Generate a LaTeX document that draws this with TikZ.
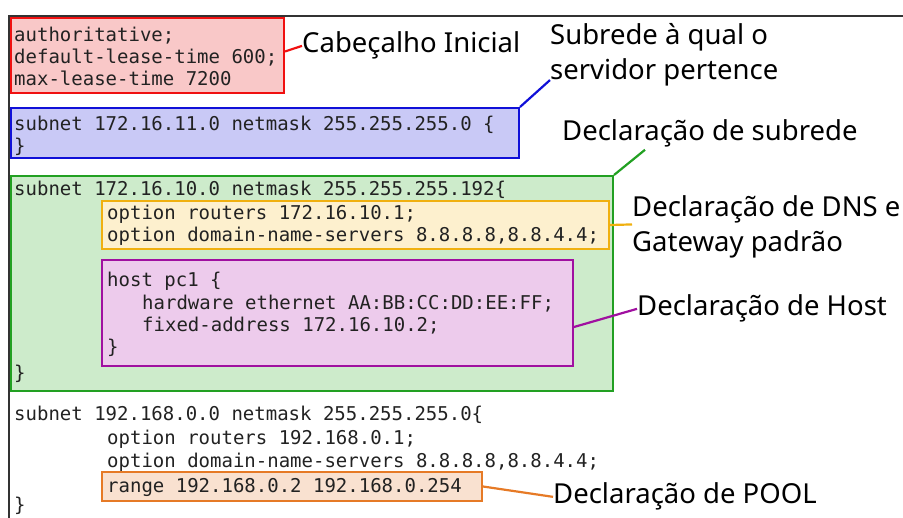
\documentclass[tikz,border=0pt]{standalone}
\usepackage{fontspec}
\setmainfont{Noto Sans}
\newfontfamily\codefont{DejaVu Sans Mono}
\definecolor{redfill}{HTML}{F9C8C8}
\definecolor{redline}{HTML}{F01010}
\definecolor{bluefill}{HTML}{C9C9F6}
\definecolor{blueline}{HTML}{1010D8}
\definecolor{greenfill}{HTML}{CDEBCB}
\definecolor{greenline}{HTML}{22A022}
\definecolor{yelfill}{HTML}{FDF0CE}
\definecolor{yelline}{HTML}{F0B010}
\definecolor{purfill}{HTML}{EDCBEC}
\definecolor{purline}{HTML}{A010A0}
\definecolor{orafill}{HTML}{F9E1D0}
\definecolor{oraline}{HTML}{E67A26}
\definecolor{codegray}{HTML}{222222}
\definecolor{framegray}{HTML}{333333}
\begin{document}
\begin{tikzpicture}[x=1pt,y=-1pt,
  box/.style={draw, line width=2pt, inner sep=0pt, anchor=north west},
  code/.style={anchor=base west, inner sep=0pt, text=codegray,
    font=\codefont\fontsize{19}{22}\selectfont},
  lbl/.style={anchor=base west, inner sep=0pt, text=black,
    font=\fontsize{27.5}{35}\selectfont},
  lbltwo/.style={anchor=north west, inner sep=0pt, text=black, align=left,
    font=\fontsize{27.5}{35}\selectfont},
  conn/.style={line width=2.2pt}]
\useasboundingbox (0,0) rectangle (903,518);
% outer frame
\coordinate (fr) at (9,16);
\coordinate (frR) at (903,16);
\coordinate (frB) at (9,518);
\draw[framegray, line width=2pt] (frB) -- (fr) -- (frR);

% boxes
\node[box, fill=redfill, draw=redline, minimum width=273pt, minimum height=75pt] (hdr) at (10,17) {};
\node[box, fill=bluefill, draw=blueline, minimum width=508pt, minimum height=50pt] (sub1) at (10,107) {};
\node[box, fill=greenfill, draw=greenline, minimum width=602pt, minimum height=215pt] (sub2) at (10,175) {};
\node[box, fill=yelfill, draw=yelline, minimum width=507pt, minimum height=48pt] (opt) at (101,200) {};
\node[box, fill=purfill, draw=purline, minimum width=471pt, minimum height=106pt] (host) at (101,259) {};
\node[box, fill=orafill, draw=oraline, minimum width=380pt, minimum height=29pt] (rng) at (101,471) {};

% code text
\node[code] (c1) at (14,42) {authoritative;};
\node[code] (c2) at (14,64) {default-lease-time 600;};
\node[code] (c3) at (14,86) {max-lease-time 7200};
\node[code] (c4) at (14,131) {subnet 172.16.11.0 netmask 255.255.255.0 \{};
\node[code] (c5) at (14,153) {\}};
\node[code] (c6) at (14,196) {subnet 172.16.10.0 netmask 255.255.255.192\{};
\node[code] (c7) at (107,220) {option routers 172.16.10.1;};
\node[code] (c8) at (107,242) {option domain-name-servers 8.8.8.8,8.8.4.4;};
\node[code] (c9) at (107,287) {host pc1 \{};
\node[code] (c10) at (142,310) {hardware ethernet AA:BB:CC:DD:EE:FF;};
\node[code] (c11) at (142,332) {fixed-address 172.16.10.2;};
\node[code] (c12) at (107,354) {\}};
\node[code] (c13) at (14,380) {\}};
\node[code] (c14) at (14,421) {subnet 192.168.0.0 netmask 255.255.255.0\{};
\node[code] (c15) at (107,445) {option routers 192.168.0.1;};
\node[code] (c16) at (107,468) {option domain-name-servers 8.8.8.8,8.8.4.4;};
\node[code] (c17) at (107,493) {range 192.168.0.2 192.168.0.254};
\node[code] (c18) at (14,512) {\}};

% labels
\node[lbl] (l1) at (302,53) {Cabeçalho Inicial};
\node[lbltwo] (l2) at (550,23) {Subrede à qual o\\servidor pertence};
\node[lbl] (l3) at (562,141) {Declaração de subrede};
\node[lbltwo] (l4) at (632,195) {Declaração de DNS e\\Gateway padrão};
\node[lbl] (l5) at (637,316) {Declaração de Host};
\node[lbl] (l6) at (553,504) {Declaração de POOL};

% connectors
\draw[conn, redline] ([yshift=4pt]hdr.east) -- (l1.west);
\draw[conn, blueline] (sub1.north east) -- ([yshift=6pt]l2.south west);
\draw[conn, greenline] (sub2.north east) -- ([xshift=83pt,yshift=-2pt]l3.south west);
\draw[conn, yelline] (opt.east) -- ([yshift=2pt]l4.west);
\draw[conn, purline] ([yshift=-14pt]host.east) -- (l5.west);
\draw[conn, oraline] (rng.east) -- (l6.west);
\end{tikzpicture}
\end{document}
